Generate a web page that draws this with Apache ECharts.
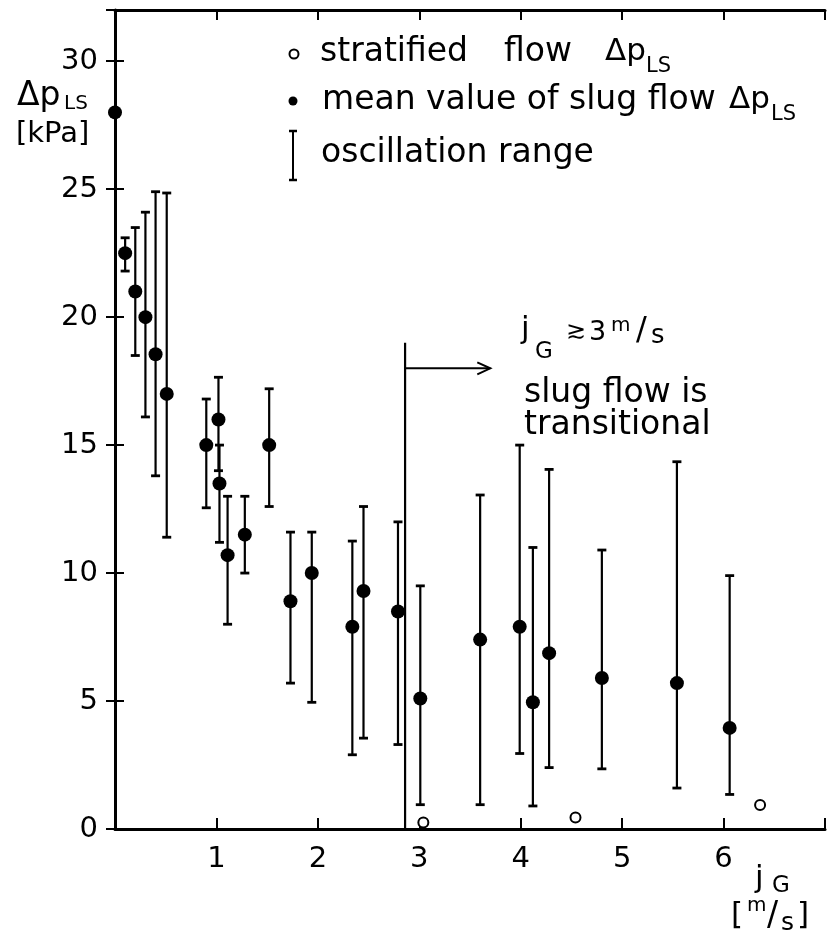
<!DOCTYPE html>
<html><head><meta charset="utf-8">
<script src="https://cdn.jsdelivr.net/npm/echarts@6/dist/echarts.min.js"></script>
<style>html,body{margin:0;padding:0;background:#fff;overflow:hidden}#c{width:828px;height:936px}</style>
</head><body><div id="c"></div>
<script>
// ---- data ----
const jG     = [0.00,0.10,0.20,0.30,0.40,0.51,0.90,1.02,1.03,1.11,1.28,1.52,1.73,1.94,2.34,2.45,2.79,3.01,3.60,3.99,4.12,4.28,4.80,5.54,6.06];
const dpMean = [28.0,22.5,21.0,20.0,18.55,17.0,15.0,16.0,13.5,10.7,11.5,15.0,8.9,10.0,7.9,9.3,8.5,5.1,7.4,7.9,4.95,6.87,5.9,5.7,3.95];
const dpLow  = [null,21.8,18.5,16.1,13.8,11.4,12.55,14.0,11.2,8.0,10.0,12.6,5.7,4.95,2.9,3.55,3.3,0.95,0.95,2.95,0.9,2.4,2.35,1.6,1.35];
const dpHigh = [null,23.1,23.5,24.1,24.9,24.85,16.8,17.65,15.0,13.0,13.0,17.2,11.6,11.6,11.25,12.6,12.0,9.5,13.05,15.0,11.0,14.05,10.9,14.35,9.9];
const stratJG = [3.04,4.54,6.36];
const stratDp = [0.25,0.45,0.94];
const xTickValues = [1,2,3,4,5,6];
const yTickValues = [0,5,10,15,20,25,30];
const boundaryJG = 2.86, boundaryBottom = 0, boundaryTop = 19.0, arrowDp = 18.0, arrowEndJG = 3.70;

// ---- chart ----
const FONT = "'DejaVu Sans', sans-serif";
const chart = echarts.init(document.getElementById('c'), null, {renderer:'canvas'});

const meanData = jG.map((x,i)=>[x, dpMean[i]]);
const rangeData = jG.map((x,i)=>[x, dpLow[i], dpHigh[i]]).filter(d=>d[1]!==null);
const stratData = stratJG.map((x,i)=>[x, stratDp[i]]);

function txt(x, y, text, size, extra){
  return Object.assign({type:'text', x:x, y:y, z:100, silent:true,
    style:{text:text, font: size+'px '+FONT, fill:'#000', textAlign:'left', textVerticalAlign:'middle', align:'left', verticalAlign:'middle'}}, extra||{});
}

const axisCommon = {
  type:'value', min:0,
  axisLine:{show:true, onZero:false, lineStyle:{color:'#000', width:3}},
  splitLine:{show:false},
};

const option = {
  backgroundColor:'#fff',
  animation:false,
  grid:{left:115, top:10, width:716, height:819, containLabel:false},
  xAxis:[
    Object.assign({}, axisCommon, {max:7, interval:1, position:'bottom',
      axisTick:{show:true, inside:true, length:11, lineStyle:{color:'#000', width:2}},
      axisLabel:{show:true, margin:16, color:'#000', fontSize:29, fontFamily:FONT,
        formatter:v=> xTickValues.indexOf(v)>=0 ? String(v) : ''}}),
    Object.assign({}, axisCommon, {max:7, interval:1, position:'top',
      axisTick:{show:true, inside:true, length:10, lineStyle:{color:'#000', width:2}},
      axisLabel:{show:false}})
  ],
  yAxis:[
    Object.assign({}, axisCommon, {max:32, interval:5, position:'left',
      axisTick:{show:true, inside:true, length:9, lineStyle:{color:'#000', width:2}},
      axisLabel:{show:true, margin:17, color:'#000', fontSize:29, fontFamily:FONT,
        formatter:v=> yTickValues.indexOf(v)>=0 ? String(v) : ''}}),
    Object.assign({}, axisCommon, {max:32, interval:5, position:'right',
      axisLine:{show:false},
      axisTick:{show:true, inside:true, length:9, lineStyle:{color:'#000', width:2}},
      axisLabel:{show:false}})
  ],
  series:[
    {
      type:'custom', name:'oscillation range', xAxisIndex:0, yAxisIndex:0,
      data: rangeData, z:2,
      renderItem:function(params, api){
        const x = api.value(0), lo = api.value(1), hi = api.value(2);
        const a = api.coord([x, lo]), b = api.coord([x, hi]);
        const hw = 4.5;
        return {type:'group', children:[
          {type:'line', shape:{x1:a[0], y1:a[1], x2:b[0], y2:b[1]}, style:{stroke:'#000', lineWidth:2.2}},
          {type:'line', shape:{x1:a[0]-hw, y1:a[1], x2:a[0]+hw, y2:a[1]}, style:{stroke:'#000', lineWidth:2.8}},
          {type:'line', shape:{x1:b[0]-hw, y1:b[1], x2:b[0]+hw, y2:b[1]}, style:{stroke:'#000', lineWidth:2.8}}
        ]};
      }
    },
    {
      type:'custom', name:'boundary', xAxisIndex:0, yAxisIndex:0, z:2,
      data:[[boundaryJG, boundaryBottom, boundaryTop, arrowDp, arrowEndJG]],
      renderItem:function(params, api){
        const x = api.value(0);
        const p0 = api.coord([x, api.value(1)]), p1 = api.coord([x, api.value(2)]);
        const q0 = api.coord([x, api.value(3)]), q1 = api.coord([api.value(4), api.value(3)]);
        return {type:'group', children:[
          {type:'line', shape:{x1:p0[0], y1:p0[1], x2:p1[0], y2:p1[1]}, style:{stroke:'#000', lineWidth:2.2}},
          {type:'line', shape:{x1:q0[0], y1:q0[1], x2:q1[0], y2:q1[1]}, style:{stroke:'#000', lineWidth:2}},
          {type:'polyline', shape:{points:[[q1[0]-13, q1[1]-6],[q1[0], q1[1]],[q1[0]-13, q1[1]+6]]}, style:{stroke:'#000', lineWidth:2, fill:null}}
        ]};
      }
    },
    {
      type:'scatter', name:'mean value of slug flow', data:meanData, z:3,
      symbol:'circle', symbolSize:14, itemStyle:{color:'#000', opacity:1}
    },
    {
      type:'scatter', name:'stratified flow', data:stratData, z:3,
      symbol:'circle', symbolSize:10, itemStyle:{color:'#fff', borderColor:'#000', borderWidth:2, opacity:1}
    }
  ],
  graphic:[
    // y-axis title
    txt(17, 96, 'Δp', 33),
    txt(64, 104, 'LS', 20),
    txt(16, 134, '[kPa]', 29),
    // x-axis title
    txt(755, 879, 'j', 31),
    txt(772, 886, 'G', 23),
    txt(731, 916, '[', 31),
    txt(747, 906, 'm', 20),
    txt(767, 916, '/', 33),
    txt(781, 923, 's', 25),
    txt(797, 916, ']', 31),
    // legend
    {type:'circle', z:100, shape:{cx:294, cy:54, r:4.5}, style:{fill:'#fff', stroke:'#000', lineWidth:2}},
    txt(320, 52, 'stratified', 33),
    txt(504, 52, 'flow', 33),
    txt(605, 52, 'Δp', 31),
    txt(646, 67, 'LS', 21),
    {type:'circle', z:100, shape:{cx:293, cy:101, r:4.5}, style:{fill:'#000'}},
    txt(322, 100, 'mean value of slug flow', 33),
    txt(729, 100, 'Δp', 31),
    txt(771, 115, 'LS', 21),
    {type:'line', z:100, shape:{x1:293, y1:131, x2:293, y2:180}, style:{stroke:'#000', lineWidth:2}},
    {type:'line', z:100, shape:{x1:289, y1:131, x2:297, y2:131}, style:{stroke:'#000', lineWidth:2.5}},
    {type:'line', z:100, shape:{x1:289, y1:180, x2:297, y2:180}, style:{stroke:'#000', lineWidth:2.5}},
    txt(321, 153, 'oscillation range', 33),
    // annotation
    txt(521, 330, 'j', 31),
    txt(535, 352, 'G', 23),
    txt(566, 332, '≳', 24),
    txt(589, 333, '3', 27),
    txt(611, 326, 'm', 20),
    txt(636, 331, '/', 32),
    txt(651, 336, 's', 26),
    txt(524, 393, 'slug flow is', 33),
    txt(524, 425, 'transitional', 33)
  ]
};
chart.setOption(option);
</script>
</body></html>
